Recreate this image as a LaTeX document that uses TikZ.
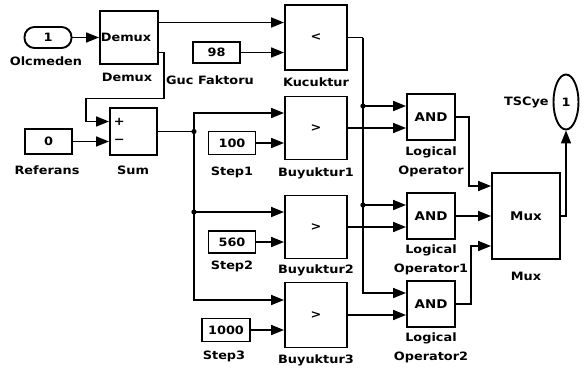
\documentclass[tikz,border=0pt]{standalone}
\usepackage{fontspec}
\setmainfont{DejaVu Sans}[FakeStretch=1.12,BoldFeatures={FakeStretch=1.12}]
\usetikzlibrary{arrows.meta,calc,shapes.geometric}

\begin{document}
\begin{tikzpicture}[x=1pt,y=-1pt,line width=1.7pt,>={Triangle[length=13pt,width=10pt]},
  font=\fontsize{11.5}{12}\selectfont\bfseries,
  blok/.style={draw,line width=1.9pt,inner sep=0pt,minimum width=62pt,minimum height=63pt},
  sabit/.style={draw,line width=1.9pt,inner sep=0pt,minimum width=47pt,minimum height=21pt},
  kapi/.style={draw,line width=1.9pt,inner sep=0pt,minimum width=48pt,minimum height=46pt,font=\fontsize{12}{12}\selectfont\bfseries},
  etiket/.style={inner sep=0pt,align=center,font=\fontsize{11.5}{19}\selectfont\bfseries}]
  \useasboundingbox (0,0) rectangle (587,370);
  % giris ve demux
  \node[sabit,rounded corners=10pt] (olc) at (48,37.5) {1}; \node[etiket] (lolc) at (46,61) {Olcmeden};
  \node[draw,line width=1.9pt,inner sep=0pt,minimum width=58pt,minimum height=53pt] (dmx) at (129,37.5) {};
  \node[anchor=west,inner sep=1pt] (tdmx) at (dmx.west) {Demux}; \node[etiket] (ldmx) at (127,77) {Demux};
  % referans ve toplama
  \node[sabit,minimum height=25pt] (ref) at (48.5,141.5) {0}; \node[etiket] (lref) at (47,170) {Referans};
  \node[draw,line width=1.9pt,inner sep=0pt,minimum width=47pt,minimum height=47pt] (sum) at (133.5,131.5) {};
  \node[anchor=west,inner sep=0pt] (sarti) at ([xshift=4pt,yshift=10pt]sum.west) {+};
  \node[anchor=west,inner sep=0pt] (seksi) at ([xshift=4pt,yshift=-10pt]sum.west) {−};
  \node[etiket] (lsum) at (133,170) {Sum};
  % sabitler
  \node[sabit] (c98) at (216.5,52.5) {98}; \node[etiket] (lc98) at (210,80) {Guc Faktoru};
  \node[sabit,minimum height=23pt] (st1) at (232,143) {100}; \node[etiket] (lst1) at (232,172) {Step1};
  \node[sabit,minimum height=22pt] (st2) at (232,242) {560}; \node[etiket] (lst2) at (232,266) {Step2};
  \node[sabit,minimum width=48pt,minimum height=23pt] (st3) at (226,330) {1000}; \node[etiket] (lst3) at (224,356) {Step3};
  % karsilastirma bloklari
  \node[blok,minimum height=65pt] (kuc) at (316,37.5) {<}; \node[etiket] (lkuc) at (316,82) {Kucuktur};
  \node[blok] (by1) at (316,128) {>}; \node[etiket] (lby1) at (316,173) {Buyuktur1};
  \node[blok] (by2) at (316,227) {>}; \node[etiket] (lby2) at (316,270) {Buyuktur2};
  \node[blok,minimum height=65pt] (by3) at (316,315) {>}; \node[etiket] (lby3) at (316,360) {Buyuktur3};
  % mantik kapilari
  \node[kapi] (and1) at (431,117) {AND}; \node[etiket] (land1) at (431,162) {Logical\\Operator};
  \node[kapi] (and2) at (431,216) {AND}; \node[etiket] (land2) at (431,260) {Logical\\Operator1};
  \node[kapi] (and3) at (431,304) {AND}; \node[etiket] (land3) at (431,348) {Logical\\Operator2};
  % mux ve cikis
  \node[draw,line width=1.9pt,inner sep=0pt,minimum width=68pt,minimum height=86pt,font=\fontsize{12}{12}\selectfont\bfseries] (mux) at (526,216) {Mux};
  \node[etiket] (lmux) at (526,276) {Mux};
  \node[draw,ellipse,line width=1.9pt,inner sep=0pt,minimum width=25pt,minimum height=55pt] (tsc) at (566,102) {1};
  \node[etiket,anchor=east] (ltsc) at ([xshift=-3pt]tsc.west) {TSCye};
  % baglantilar
  \draw[->] (olc.east) -- (dmx.west);
  \draw[->] ([yshift=15pt]dmx.east) -- ([yshift=15pt]kuc.west);
  \draw[->] ([yshift=-15pt]dmx.east) -- ++(5,0) -- ++(0,46) -| ([xshift=-23pt,yshift=10pt]sum.west) -- ([yshift=10pt]sum.west);
  \draw[->] (ref.east) -- ([yshift=-10pt]sum.west);
  \draw[->] (c98.east) -- ([yshift=-15pt]kuc.west);
  \draw[->] (st1.east) -- ([yshift=-15pt]by1.west);
  \draw[->] (st2.east) -- ([yshift=-15pt]by2.west);
  \draw[->] (st3.east) -- ([yshift=-15pt]by3.west);
  % toplama cikisi dagitimi
  \coordinate (jsum) at ($(sum.east)+(36,0)$); \coordinate (by2a) at ([yshift=15pt]by2.west);
  \draw (sum.east) -- (jsum);
  \draw[->] (jsum) |- ([yshift=15pt]by1.west);
  \draw[->] (jsum) |- (by2a);
  \draw[->] (jsum) |- ([yshift=15pt]by3.west);
  \fill (jsum) circle (2.6pt); \fill (jsum |- by2a) circle (2.6pt);
  % kucuktur cikisi dagitimi
  \coordinate (jkuc) at ($(kuc.east)+(15,0)$);
  \coordinate (and1a) at ([yshift=11pt]and1.west); \coordinate (and2a) at ([yshift=11pt]and2.west);
  \draw (kuc.east) -- (jkuc);
  \draw[->] (jkuc) |- (and1a);
  \draw[->] (jkuc) |- (and2a);
  \draw[->] (jkuc) |- ([yshift=11pt]and3.west);
  \fill (jkuc |- and1a) circle (2.6pt); \fill (jkuc |- and2a) circle (2.6pt);
  \draw[->] (by1.east) -- ([yshift=-11pt]and1.west);
  \draw[->] (by2.east) -- ([yshift=-11pt]and2.west);
  \draw[->] (by3.east) -- ([yshift=-11pt]and3.west);
  % mux girisleri ve cikis
  \draw[->] (and1.east) -- ++(13,0) |- ([yshift=30pt]mux.west);
  \draw[->] (and2.east) -- (mux.west);
  \draw[->] (and3.east) -- ++(15,0) |- ([yshift=-30pt]mux.west);
  \draw[->] (mux.east) -| (tsc.south);
\end{tikzpicture}
\end{document}
